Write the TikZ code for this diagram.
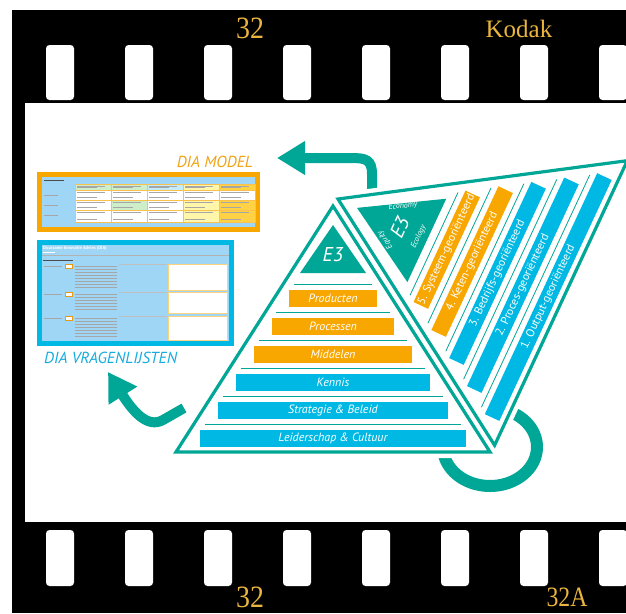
\documentclass[tikz,border=0pt]{standalone}
\usepackage{fontspec}
\setmainfont{PT Sans}
\newfontfamily\filmfont{Liberation Serif}
\usetikzlibrary{arrows.meta}

\definecolor{eteal}{RGB}{0,166,150}
\definecolor{eorange}{RGB}{248,166,0}
\definecolor{ecyan}{RGB}{0,184,228}
\definecolor{filmgold}{RGB}{233,181,62}
\definecolor{shotblue}{RGB}{160,214,245}
\definecolor{modeltxt}{RGB}{240,163,20}
\definecolor{vragentxt}{RGB}{22,172,222}
\definecolor{tgreen}{RGB}{205,238,200}
\definecolor{tcyan}{RGB}{195,235,248}
\definecolor{tyellow}{RGB}{255,246,170}
\definecolor{tgold}{RGB}{255,210,70}

\tikzset{
	hole/.style={fill=white, rounded corners=3.5pt},
	filmno/.style={text=filmgold, inner sep=0pt, font=\filmfont\fontsize{31}{31}\selectfont},
	sepline/.style={eteal, line width=0.8pt},
	layer/.style={inner sep=0pt, minimum height=17pt, text=white, font=\fontsize{12}{13}\selectfont\itshape},
	tilelayer/.style={inner sep=0pt, minimum height=16pt, text=white, font=\fontsize{11.5}{12}\selectfont},
	halo/.style={draw=white, line width=12pt, line join=miter, fill=white},
	rim/.style={eteal, line width=3.2pt, line join=miter},
	bigarrow/.style={eteal, line width=10pt, -{Triangle[length=28pt, width=32pt]}},
	txtline/.style={gray!70, line width=0.6pt},
	shottitle/.style={font=\fontsize{16}{16}\selectfont\itshape, inner sep=0pt},
	e3word/.style={text=white, inner sep=0pt, font=\fontsize{8}{8}\selectfont\itshape}
}

\begin{document}
\begin{tikzpicture}[x=1pt, y=-1pt]
	\useasboundingbox (0,0) rectangle (626,613);
	\fill[black] (12,10) rectangle (626,613);
	\fill[white] (25,103) rectangle (626,522);
	\foreach \k in {0,...,7} {
		\fill[hole] ({46+79*\k},45) rectangle ++(28,55);
		\fill[hole] ({46+79*\k},530) rectangle ++(28,56);
	}
	\node[filmno] (no-top) at (250,28) {\scalebox{0.9}[1]{32}};
	\node[filmno, font=\filmfont\fontsize{25}{25}\selectfont] (kodak) at (519,29) {Kodak};
	\node[filmno] (no-bot) at (250,597) {\scalebox{0.9}[1]{32}};
	\node[filmno, font=\filmfont\fontsize{28}{28}\selectfont] (no-bot-a) at (567,597) {\scalebox{0.85}[1]{32A}};

	\fill[eorange] (37,172) rectangle (260,232);
	\fill[shotblue] (42,177) rectangle (255,227);
	\draw[black!70, line width=1pt] (44,180) -- ++(20,0);
	\foreach \ry/\rh/\clrs in {184/6/{tgreen,tgreen,tcyan,tyellow,tgold}, 190/10/{white,white,white,white,white}, 200/10/{white,tgreen,white,tyellow,tgold}, 210/12/{white,white,white,tyellow,tgold}} {
		\foreach \cc [count=\j] in \clrs {
			\filldraw[fill=\cc, draw=eorange!70, line width=0.3pt] ({39+36*\j},\ry) rectangle ++(36,\rh);
			\draw[txtline] ({41+36*\j},\ry+2.5) -- ++(28,0);
			\draw[txtline] ({41+36*\j},\ry+\rh-3) -- ++(20,0);
		}
	}
	\foreach \ry in {195,205,215}
		\draw[txtline] (44,\ry) -- ++(14,0);

	\fill[ecyan] (37,240) rectangle (234,346);
	\fill[shotblue] (42,245) rectangle (229,341);
	\node[anchor=west, text=white, inner sep=0pt, font=\fontsize{4.5}{5}\selectfont\bfseries] (q-title) at (43,248) {Duurzame Innovatie Advies (DIA)};
	\draw[white, line width=0.8pt] (43,252.5) -- ++(12,0);
	\draw[gray!60, line width=0.4pt] (42,255) -- (229,255);
	\draw[black!70, line width=0.8pt] (43,260) -- ++(30,0);
	\foreach \top/\bot/\nl in {264/290/8, 292/313/6, 316/340/7} {
		\draw[txtline] (44,\top+2) -- ++(18,0);
		\filldraw[fill=white, draw=eorange!70!brown, line width=0.5pt] (65,\top) rectangle (72,\top+4);
		\foreach \n in {1,...,\nl}
			\draw[txtline, line width=0.4pt] (75,\top-1+3*\n) -- ++(42,0);
		\draw[gray!50, line width=0.3pt] (119,\top) -- (167,\top);
		\filldraw[fill=white, draw=eorange!50, line width=0.6pt] (168,\top) rectangle (227,\bot);
	}

	\node[shottitle, text=modeltxt, anchor=east] (model-lbl) at (253,162) {DIA MODEL};
	\node[shottitle, text=vragentxt, anchor=west] (vragen-lbl) at (44,358) {DIA VRAGENLIJSTEN};

	\coordinate (ta-start) at (372,196);
	\coordinate (ta-tip) at (277,158);
	\coordinate (la-start) at (184,408);
	\coordinate (la-tip) at (108,372);
	\draw[bigarrow] (ta-start) -- (372,174) .. controls (372,160) and (366,158) .. (352,158) -- (ta-tip);
	\draw[bigarrow] (la-start) -- (163,420) .. controls (147,429) and (132,410) .. (la-tip);
	\draw[eteal, line width=12pt] plot[smooth, domain=-190:80, samples=60, variable=\t] ({490+47*cos(\t)},{447-39*sin(\t)});

	\begin{scope}[shift={(333,206)}]
		\filldraw[halo] (0,0) -- (157,246) -- (-157,246) -- cycle;
	\end{scope}
	\begin{scope}[shift={(338,199)}, rotate=65]
		\filldraw[halo] (0,0) -- (157,246) -- (-157,246) -- cycle;
	\end{scope}

	\begin{scope}[shift={(333,206)}]
		\fill[eteal] (0,19) -- (33,67) -- (-33,67) -- cycle;
		\node[text=white, inner sep=0pt, font=\fontsize{20}{20}\selectfont\itshape] (p-e3) at (0,49) {E3};
		\foreach[count=\i] \lbl/\clr in {Producten/eorange, Processen/eorange, Middelen/eorange, Kennis/ecyan, Strategie \& Beleid/ecyan, Leiderschap \& Cultuur/ecyan} {
			\pgfmathsetmacro\dtop{56+28*\i}
			\pgfmathsetmacro\lhalf{0.638*(\dtop-6)-11}
			\pgfmathsetmacro\bwid{2*(0.638*\dtop-10)}
			\draw[sepline] (-\lhalf,\dtop-6) -- (\lhalf,\dtop-6);
			\node[layer, fill=\clr, minimum width=\bwid pt] (p-\i) at (0,\dtop+8.5) {\lbl};
		}
		\draw[rim] (0,0) -- (157,246) -- (-157,246) -- cycle;
	\end{scope}

	\begin{scope}[shift={(338,199)}, rotate=65, transform shape]
		\fill[eteal] (0,21) -- (46,98) -- (-46,98) -- cycle;
		\node[text=white, inner sep=0pt, font=\fontsize{20}{20}\selectfont\itshape] (r-e3) at (0,68) {E3};
		\node[e3word] (r-ecology) at (0,89) {Ecology};
		\node[e3word, rotate=-59] (r-economy) at (21,62) {Economy};
		\node[e3word, rotate=59] (r-equity) at (-17,60) {Equity};
		\foreach[count=\i] \lbl/\clr in {5. Systeem-georiënteerd/eorange, 4. Keten-georiënteerd/eorange, 3. Bedrijfs-georiënteerd/ecyan, 2. Proces-georiënteerd/ecyan, 1. Output-georiënteerd/ecyan} {
			\pgfmathsetmacro\dtop{84+28*\i}
			\pgfmathsetmacro\lhalf{0.638*(\dtop-6)-11}
			\pgfmathsetmacro\bwid{2*(0.638*\dtop-10)}
			\draw[sepline] (-\lhalf,\dtop-6) -- (\lhalf,\dtop-6);
			\node[tilelayer, fill=\clr, minimum width=\bwid pt] (r-\i) at (0,\dtop+8) {\lbl};
		}
		\draw[rim] (0,0) -- (157,246) -- (-157,246) -- cycle;
	\end{scope}
\end{tikzpicture}
\end{document}
